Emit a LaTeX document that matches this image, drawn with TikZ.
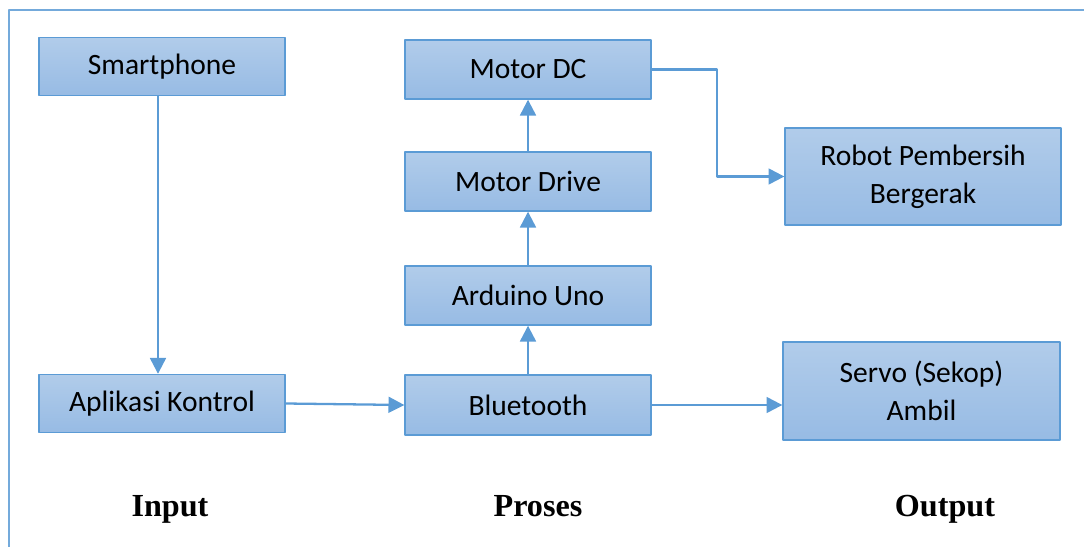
\documentclass[tikz,border=0pt]{standalone}
\usepackage{fontspec}
\setmainfont{Carlito}
\newfontfamily\labelfont{Liberation Serif}
\usetikzlibrary{arrows.meta}
\definecolor{officeblue}{HTML}{5B9BD5}
\definecolor{boxtop}{HTML}{B1CCEA}
\definecolor{boxbot}{HTML}{97BBE4}
\begin{document}
\begin{tikzpicture}[line cap=round, line join=round, x=0.02cm, y=-0.02cm, >={Triangle[length=9pt,width=9pt]}]
	\tikzset{blok/.style={draw=officeblue, line width=0.8pt, top color=boxtop, bottom color=boxbot, minimum width=4.92cm, minimum height=1.16cm, align=center, font=\fontsize{16.8}{21.6}\selectfont, inner sep=2pt},
		panah/.style={->, draw=officeblue, line width=1.3pt},
		judul/.style={anchor=base, font=\labelfont\fontsize{18.3}{22}\selectfont\bfseries}}
	\useasboundingbox (0,0) rectangle (1084,547);
	\draw[officeblue!85, line width=1.1pt, line cap=butt] (1084,10)--(9,10)--(9,547);
	% input
	\node[blok] (hp) at (162,66.5) {Smartphone};
	\node[blok] (apk) at (162,403.5) {Aplikasi Kontrol};
	% proses
	\node[blok, minimum height=1.18cm] (mdc) at (528,69.5) {Motor DC};
	\node[blok, minimum height=1.18cm] (mdr) at (528,181.5) {Motor Drive};
	\node[blok, minimum height=1.18cm] (ard) at (528,295.5) {Arduino Uno};
	\node[blok, minimum height=1.2cm] (bt) at (528,405) {Bluetooth};
	% output
	\node[blok, minimum width=5.52cm, minimum height=1.94cm] (robot) at (923,176.5) {Robot Pembersih\\Bergerak};
	\node[blok, minimum width=5.54cm, minimum height=1.96cm] (servo) at (921.5,391) {Servo (Sekop)\\Ambil};
	\draw[panah] (hp.south -| 158,0) -- (apk.north -| 158,0);
	\draw[panah] (apk.east) -- (bt.west);
	\draw[panah] (bt) -- (ard);
	\draw[panah] (ard) -- (mdr);
	\draw[panah] (mdr) -- (mdc);
	\draw[panah] (mdc.east) -- ++(65,0) |- (robot.west);
	\draw[panah] (bt.east) -- (servo.west |- bt.east);
	\node[judul] (tin) at (170,516) {Input};
	\node[judul] (tpr) at (538,516) {Proses};
	\node[judul] (tout) at (945,516) {Output};
\end{tikzpicture}
\end{document}
